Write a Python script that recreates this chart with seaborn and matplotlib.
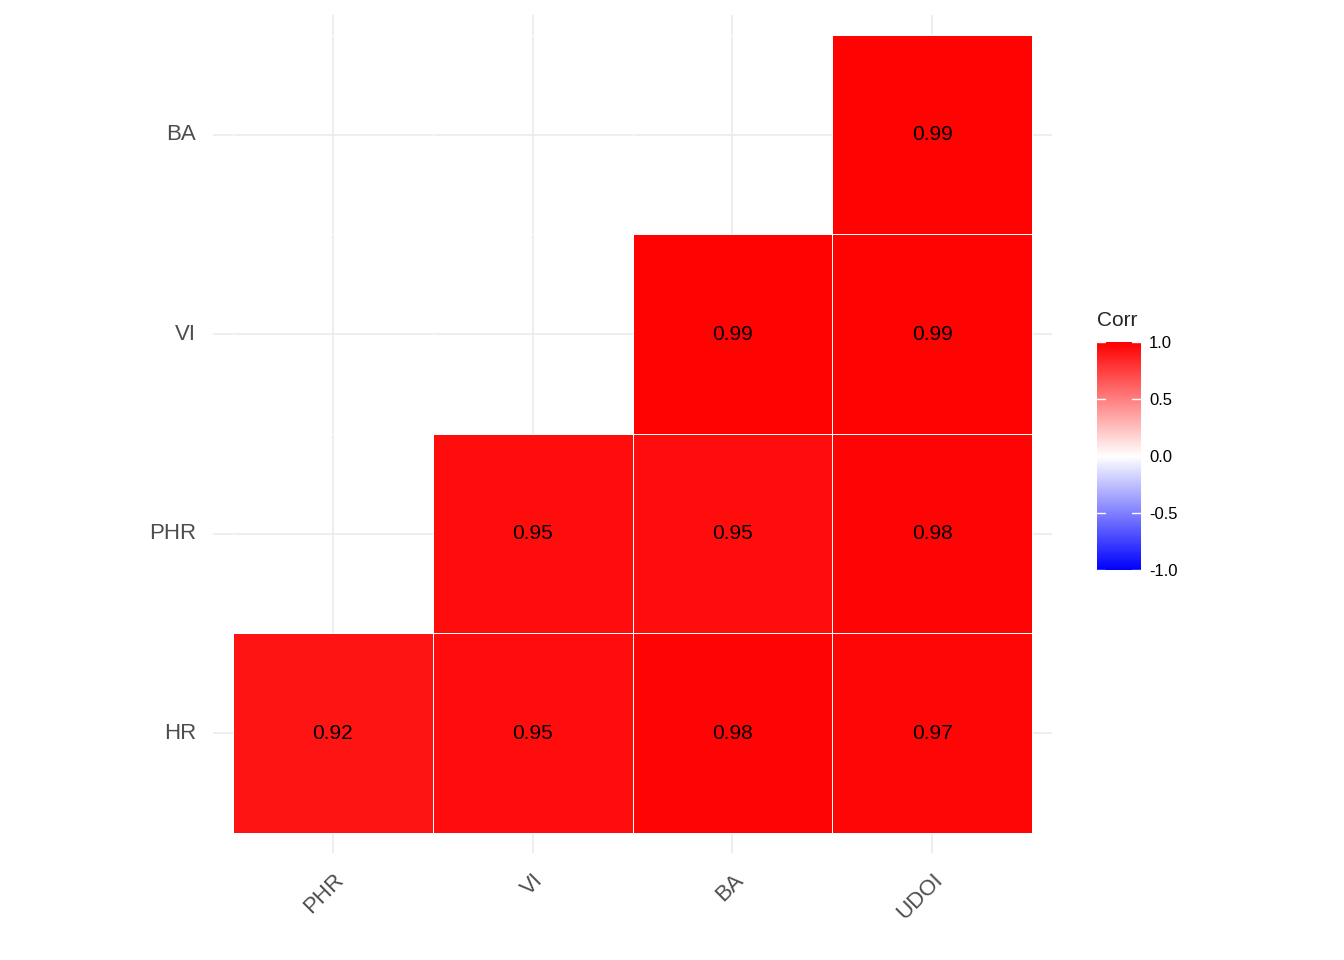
import matplotlib
matplotlib.use("Agg")
import matplotlib.pyplot as plt
import numpy as np
import pandas as pd
import seaborn as sns
from matplotlib.colors import LinearSegmentedColormap

# correlation values (lower triangle, rows top -> bottom)
col_names = ["PHR", "VI", "BA", "UDOI"]
row_names = ["BA", "VI", "PHR", "HR"]
row_ba = [np.nan, np.nan, np.nan, 0.99]
row_vi = [np.nan, np.nan, 0.99, 0.99]
row_phr = [np.nan, 0.95, 0.95, 0.98]
row_hr = [0.92, 0.95, 0.98, 0.97]

corr = pd.DataFrame([row_ba, row_vi, row_phr, row_hr], index=row_names, columns=col_names)

sns.set_style("white")
plt.rcParams['font.family'] = ['Arial', 'Liberation Sans', 'DejaVu Sans']

cmap = LinearSegmentedColormap.from_list("bwr_gg", ["blue", "white", "red"])

fig = plt.figure(figsize=(13.44, 9.6), dpi=100)
ax = fig.add_axes([0.1585, 0.1115, 0.6243, 0.873])
cax = fig.add_axes([0.816, 0.406, 0.0327, 0.2375])

sns.heatmap(corr, ax=ax, cbar_ax=cax, cmap=cmap, vmin=-1, vmax=1,
            annot=True, fmt=".2f", annot_kws={"size": 15, "color": "black"},
            linewidths=0.6, linecolor="white")

# grid lines like theme_minimal
ax.set_axisbelow(True)
for p in np.arange(4) + 0.5:
    ax.axvline(p, color="#ebebeb", lw=1.2, zorder=0)
    ax.axhline(p, color="#ebebeb", lw=1.2, zorder=0)
ax.set_xlim(-0.1, 4.1)
ax.set_ylim(4.1, -0.1)
for s in ax.spines.values():
    s.set_visible(False)
ax.tick_params(length=0, pad=12, labelsize=16, labelcolor="#4d4d4d")
ax.set_yticklabels(row_names, rotation=0)
ax.set_xticklabels(col_names, rotation=45, ha="right", va="top", rotation_mode="anchor")
ax.set_xlabel("")
ax.set_ylabel("")

cax.set_yticks([-1, -0.5, 0, 0.5, 1])
cax.set_yticklabels(["-1.0", "-0.5", "0.0", "0.5", "1.0"])
cax.tick_params(labelsize=12, length=0, pad=6, labelcolor="black")
for v in [-1, -0.5, 0, 0.5, 1]:
    cax.plot([0, 0.2], [v, v], color="white", lw=1, transform=cax.get_yaxis_transform())
    cax.plot([0.8, 1], [v, v], color="white", lw=1, transform=cax.get_yaxis_transform())
for s in cax.spines.values():
    s.set_visible(False)
cax.set_title("Corr", loc="left", fontsize=15, pad=12)

fig.savefig("out.png", dpi=100)
